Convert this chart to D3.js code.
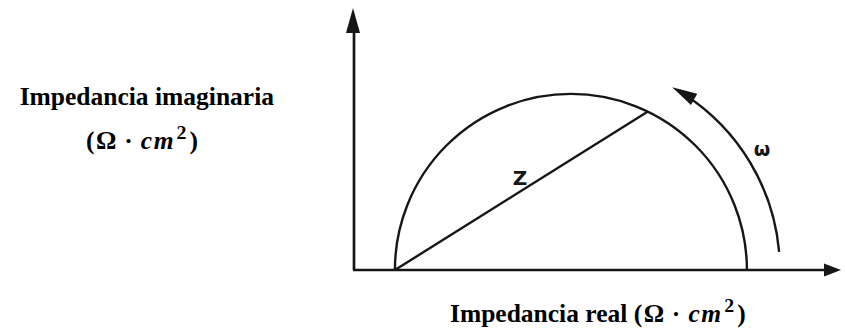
<!DOCTYPE html>
<html>
<head>
<meta charset="utf-8">
<script src="https://cdn.jsdelivr.net/npm/d3@7"></script>
<style>
  body { margin: 0; background: #fff; }
  svg { display: block; }
</style>
</head>
<body>
<div class="chart"></div>
<script>
// Nyquist diagram data (arbitrary impedance units)
const realDomain = [0, 11];
const imagDomain = [0, 5.95];
const rSolution = 0.93;      // where the semicircle starts
const rTransfer = 8.0;       // diameter of the semicircle
const zTip = [6.68, 3.60];   // end of the Z vector on the semicircle
const omegaRadius = 4.75;    // radius of the omega arrow arc
const omegaAngles = [5, 61]; // start / end angle of omega arc (degrees)
const labels = {
  z: "Z",
  omega: "ω",
  xTitle: "Impedancia real",
  yTitle: "Impedancia imaginaria"
};

const width = 845, height = 332;
const ink = "#161616";

const svg = d3.select(".chart").append("svg")
  .attr("width", width)
  .attr("height", height);

// scales
const x = d3.scaleLinear().domain(realDomain).range([354, 838]);
const y = d3.scaleLinear().domain(imagDomain).range([270, 8]);
const k = x(1) - x(0); // px per unit (same on both axes)

// axes
svg.append("line")
  .attr("x1", x(0)).attr("y1", y(0))
  .attr("x2", x(0)).attr("y2", y(imagDomain[1]) + 20)
  .attr("stroke", ink).attr("stroke-width", 2.7);
svg.append("line")
  .attr("x1", x(0) - 1).attr("y1", y(0))
  .attr("x2", x(realDomain[1]) - 12).attr("y2", y(0))
  .attr("stroke", ink).attr("stroke-width", 2.7);

// arrow heads
const yTipX = x(0) - 1, yTipY = y(imagDomain[1]);
svg.append("path")
  .attr("d", `M${yTipX},${yTipY} L${yTipX - 7},${yTipY + 25} L${yTipX + 7},${yTipY + 25} Z`)
  .attr("fill", ink);
const xTipX = x(realDomain[1]) + 3, xTipY = y(0);
svg.append("path")
  .attr("d", `M${xTipX},${xTipY} L${xTipX - 17},${xTipY - 6.5} L${xTipX - 17},${xTipY + 6.5} Z`)
  .attr("fill", ink);

// semicircle
const cx = x(rSolution + rTransfer / 2), cy = y(0);
const semi = d3.path();
semi.arc(cx, cy, (rTransfer / 2) * k, Math.PI, 2 * Math.PI);
svg.append("path")
  .attr("d", semi.toString())
  .attr("fill", "none")
  .attr("stroke", ink)
  .attr("stroke-width", 2.4);

// Z vector
svg.append("line")
  .attr("x1", x(rSolution)).attr("y1", y(0))
  .attr("x2", x(zTip[0])).attr("y2", y(zTip[1]))
  .attr("stroke", ink).attr("stroke-width", 2.4);

svg.append("text")
  .attr("x", 520).attr("y", 185)
  .attr("text-anchor", "middle")
  .attr("font-family", "DejaVu Sans")
  .attr("font-weight", "bold")
  .attr("font-size", 20)
  .attr("fill", ink)
  .text(labels.z);

// omega arc with arrow
const a0 = -omegaAngles[0] * Math.PI / 180, a1 = -omegaAngles[1] * Math.PI / 180;
const rr = omegaRadius * k;
const om = d3.path();
om.arc(cx, cy, rr, a0, a1 + 0.07, true);
svg.append("path")
  .attr("d", om.toString())
  .attr("fill", "none")
  .attr("stroke", ink)
  .attr("stroke-width", 2.4);
{
  const tipX = cx + rr * Math.cos(a1), tipY = cy + rr * Math.sin(a1);
  // tangent direction (moving counter-clockwise on screen)
  const tx = Math.sin(a1), ty = -Math.cos(a1);
  const len = 25, half = 6.5;
  const bx = tipX - tx * len, by = tipY - ty * len;
  const nx = -ty, ny = tx;
  svg.append("path")
    .attr("d", `M${tipX},${tipY} L${bx + nx * half},${by + ny * half} L${bx - nx * half},${by - ny * half} Z`)
    .attr("fill", ink);
}

svg.append("text")
  .attr("x", 762).attr("y", 156)
  .attr("text-anchor", "middle")
  .attr("font-family", "DejaVu Sans")
  .attr("font-weight", "bold")
  .attr("font-size", 19)
  .attr("fill", ink)
  .text(labels.omega);

// unit "(Ω · cm²)" as tspans, spaced like a math font
function unit(sel, size) {
  sel.append("tspan").text("(");
  sel.append("tspan").attr("dx", size * 0.06).text("Ω");
  sel.append("tspan").attr("dx", size * 0.3).text("·");
  sel.append("tspan").attr("dx", size * 0.32).attr("font-style", "italic")
    .attr("letter-spacing", 1.5).text("cm");
  sel.append("tspan").attr("font-size", size * 0.78).attr("dx", size * 0.06).attr("dy", -size * 0.38).text("2");
  sel.append("tspan").attr("dx", size * 0.12).attr("dy", size * 0.38).text(")");
}

const titleFont = "Liberation Serif, Times New Roman, serif";
const titleSize = 25.5;

// y title
svg.append("text")
  .attr("x", 274).attr("y", 105)
  .attr("text-anchor", "end")
  .attr("font-family", titleFont)
  .attr("font-weight", "bold")
  .attr("font-size", titleSize)
  .attr("fill", "#000")
  .text(labels.yTitle);
svg.append("text")
  .attr("x", 198).attr("y", 149)
  .attr("text-anchor", "end")
  .attr("font-family", titleFont)
  .attr("font-weight", "bold")
  .attr("font-size", titleSize)
  .attr("fill", "#000")
  .call(unit, titleSize);

// x title
const xt = svg.append("text")
  .attr("x", 450).attr("y", 322)
  .attr("text-anchor", "start")
  .attr("font-family", titleFont)
  .attr("font-weight", "bold")
  .attr("font-size", titleSize)
  .attr("fill", "#000");
xt.append("tspan").text(labels.xTitle + " ");
xt.call(unit, titleSize);
</script>
</body>
</html>
